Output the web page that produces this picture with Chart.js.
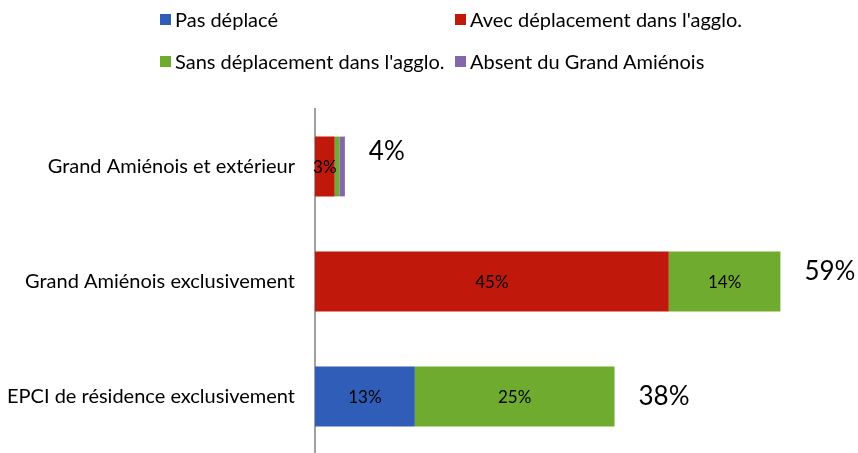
<!DOCTYPE html>
<html>
<head>
<meta charset="utf-8">
<script src="https://cdn.jsdelivr.net/npm/chart.js@4.4.0/dist/chart.umd.min.js"></script>
<style>
  html, body { margin: 0; padding: 0; background: #fff; overflow: hidden; }
  #wrap { position: relative; width: 858px; height: 453px; overflow: hidden; }
  #legend { position: absolute; left: 0; top: 0; width: 858px; height: 90px; font-family: Lato, sans-serif; font-size: 20px; color: #000; }
  .item { position: absolute; display: flex; align-items: center; white-space: nowrap; }
  .box { width: 11px; height: 11px; margin-right: 4px; }
</style>
</head>
<body>
<div id="wrap">
  <canvas id="chart" width="858" height="486"></canvas>
  <div id="legend"></div>
</div>
<script>
// categories, top to bottom
const categories = ['Grand Amiénois et extérieur', 'Grand Amiénois exclusivement', 'EPCI de résidence exclusivement'];
const seriesNames = ['Pas déplacé', 'Avec déplacement dans l\'agglo.', 'Sans déplacement dans l\'agglo.', 'Absent du Grand Amiénois'];
const seriesColors = ['#2F5DB7', '#C0180A', '#6FAB2F', '#8466AA'];

// values in %
const pasDeplace = [0, 0, 12.7];
const avecDeplacement = [2.5, 45, 0];
const sansDeplacement = [0.6, 14.2, 25.4];
const absent = [0.7, 0, 0];

const seriesValues = [pasDeplace, avecDeplacement, sansDeplacement, absent];

/*===== legend (html, 2 columns) =====*/
const legendPos = [[160, 19], [455, 19], [160, 61], [455, 61]];
const legend = document.getElementById('legend');
seriesNames.forEach((name, i) => {
  const el = document.createElement('div');
  el.className = 'item';
  el.style.left = legendPos[i][0] + 'px';
  el.style.top = (legendPos[i][1] - 12) + 'px';
  el.innerHTML = '<span class="box" style="background:' + seriesColors[i] + '"></span><span>' + name + '</span>';
  legend.appendChild(el);
});

/*===== value labels =====*/
const totalOffsets = [-15, -10, 0];
const barLabels = {
  id: 'barLabels',
  afterDatasetsDraw(chart) {
    const {ctx} = chart;
    ctx.save();
    ctx.textBaseline = 'middle';
    ctx.textAlign = 'center';
    ctx.fillStyle = '#000';
    ctx.font = '17px Lato, sans-serif';
    chart.data.datasets.forEach((ds, di) => {
      const meta = chart.getDatasetMeta(di);
      meta.data.forEach((bar, i) => {
        const v = ds.data[i];
        if (v < 2) return;
        const x = (bar.x + bar.base) / 2;
        ctx.fillText(Math.round(v) + '%', x, bar.y + 1);
      });
    });
    // totals
    ctx.textAlign = 'left';
    ctx.font = '26px Lato, sans-serif';
    const last = chart.getDatasetMeta(chart.data.datasets.length - 1).data;
    categories.forEach((c, i) => {
      let total = 0;
      seriesValues.forEach(s => total += s[i]);
      const xEnd = chart.scales.x.getPixelForValue(total);
      ctx.fillText(Math.round(total) + '%', xEnd + 24, last[i].y + totalOffsets[i]);
    });
    ctx.restore();
  }
};

const chart = new Chart(document.getElementById('chart'), {
  type: 'bar',
  data: {
    labels: categories,
    datasets: seriesNames.map((name, i) => ({
      label: name,
      data: seriesValues[i],
      backgroundColor: seriesColors[i],
      borderWidth: 0,
      categoryPercentage: 1,
      barPercentage: 0.52
    }))
  },
  options: {
    indexAxis: 'y',
    responsive: false,
    animation: false,
    layout: { padding: { top: 109, right: 32, left: 0, bottom: 0 } },
    plugins: { legend: { display: false }, tooltip: { enabled: false } },
    scales: {
      x: {
        stacked: true, min: 0, max: 65,
        display: false
      },
      y: {
        stacked: true,
        afterFit(scale) { scale.width = 315; },
        grid: { display: false, drawTicks: false },
        border: { display: true, color: '#A0A0A0', width: 2 },
        ticks: { color: '#000', font: { family: 'Lato', size: 20 }, padding: 20 }
      }
    }
  },
  plugins: [barLabels]
});
</script>
</body>
</html>
